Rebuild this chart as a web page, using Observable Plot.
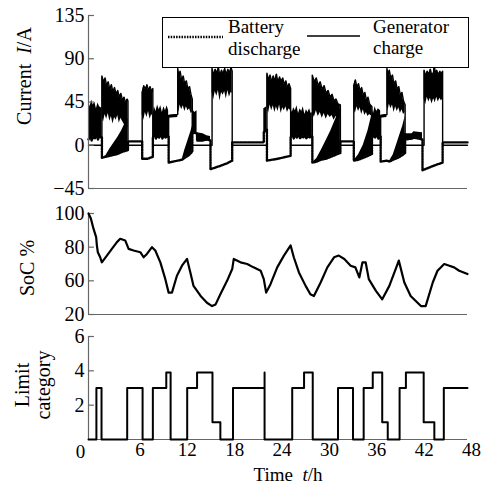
<!DOCTYPE html>
<html><head><meta charset="utf-8">
<script src="https://cdn.jsdelivr.net/npm/d3@7"></script>
<script src="https://cdn.jsdelivr.net/npm/@observablehq/plot@0.6"></script>
<style>
html,body{margin:0;padding:0;background:#fff;}
#chart{position:relative;width:487px;height:485px;overflow:hidden;background:#fff;}
#chart svg{position:absolute;left:0;top:0;}
</style></head><body><div id="chart"></div>
<script>
// ---- Current panel: generator charge (solid) band ----
const genTime = [0,1.7,
 1.7,1.9,2.1,2.3,2.5,2.7,2.9,3.1,3.3,3.5,3.7,3.9,4.1,4.3,4.5,4.7,4.9,5.0,
 5.0,6.8,
 6.8,7.0,7.2,7.4,7.6,7.8,8.0,8.15,
 8.15,10.15,
 10.15,11.3,
 11.3,11.45,11.6,11.8,12.0,12.2,12.4,12.6,12.8,13.0,13.15,
 13.15,15.65,
 15.65,15.85,16.05,16.25,16.45,16.65,16.85,17.05,17.25,17.45,17.65,17.85,18.05,18.2,
 18.2,22.6,
 22.6,22.8,23.0,23.2,23.4,23.6,23.8,24.0,24.2,24.4,24.6,24.8,25.0,25.2,25.4,25.6,
 25.6,28.35,
 28.35,28.6,28.85,29.1,29.35,29.6,29.85,30.1,30.35,30.6,30.85,31.1,31.35,31.6,31.9,
 31.9,33.6,
 33.6,33.8,34.0,34.2,34.4,34.6,34.8,35.0,35.2,35.4,35.6,35.9,
 35.9,37.0,
 37.0,37.8,
 37.8,37.95,38.1,38.3,38.5,38.7,38.9,39.1,39.3,39.5,39.7,39.9,40.1,
 40.1,42.5,
 42.5,42.7,42.9,43.1,43.3,43.5,43.7,43.8,43.9,44.1,44.3,44.5,44.7,44.85,
 44.85,48];
const genLow = [0,0,
 30,24,32,27,33,25,30,22,29,26,31,23,28,25,22,20,18,18,
 0,0,
 32,26,34,29,35,27,32,30,
 0,0,
 28,29,
 40,34,42,37,41,35,40,36,38,33,34,
 0,0,
 55,47,56,51,57,46,55,52,56,48,57,50,55,54,
 0,0,
 40,33,42,36,41,34,40,35,42,33,39,36,40,34,38,36,
 0,0,
 35,29,36,30,34,28,33,27,32,29,31,26,30,27,28,
 0,0,
 38,33,40,35,39,32,37,31,34,30,32,30,
 0,0,
 28,29,
 42,36,43,38,42,34,40,35,39,33,37,32,34,
 0,0,
 48,42,50,45,49,43,48,47,44,50,45,49,46,48,
 0,0];
const genHigh = [0,0,
 72,66,70,62,66,58,63,55,60,53,57,50,54,47,50,44,48,46,
 0,0,
 55,62,58,63,57,61,56,59,
 0,0,
 31,32,
 80,72,77,68,72,63,67,58,61,52,48,
 0,0,
 80,73,79,75,81,72,78,74,80,73,79,75,81,77,
 0,0,
 75,68,73,66,72,67,74,65,71,66,70,63,67,60,64,59,
 0,0,
 73,66,70,62,66,58,62,54,57,50,53,46,48,43,42,
 0,0,
 62,68,60,64,56,60,52,55,47,50,43,40,
 0,0,
 31,32,
 80,73,78,69,73,63,67,58,61,52,55,46,42,
 0,0,
 78,72,77,74,79,72,76,85,75,78,73,77,74,77,
 0,0];

// ---- Current panel: battery discharge (dotted) line and top of its noisy band ----
const batTime = [0,0.2,0.4,0.6,0.8,1.0,1.2,1.4,1.6,1.7,
 1.7,2.2,2.7,3.2,3.7,4.2,4.6,5.0,
 5.0,6.8,
 6.8,7.5,8.15,
 8.15,8.35,8.55,8.75,8.95,9.15,9.35,9.55,9.75,9.95,10.15,
 10.15,11.3,11.85,12.2,12.6,13.0,13.15,
 13.15,13.45,13.75,
 13.75,14.5,15.0,15.45,
 15.45,16.5,17.5,18.2,
 18.2,22.2,
 22.2,22.6,
 22.6,24.0,25.6,
 25.6,25.8,26.0,26.2,26.4,26.6,26.8,27.0,27.2,27.4,27.6,27.8,28.0,28.2,28.35,
 28.35,28.9,29.5,30.1,30.7,31.3,31.9,
 31.9,33.6,
 33.6,34.2,34.8,35.4,35.9,
 35.9,36.1,36.3,36.5,36.7,37.0,
 37.0,37.8,38.1,38.6,39.2,39.8,40.1,
 40.1,41.0,41.2,42.3,
 42.3,43.5,44.85,
 44.85,48];
const batLine = [6,10,5,9,7,11,6,10,8,8,
 -13,-12,-11,-10,-9,-7,-6,-5,
 4,4,
 -14,-14,-12,
 8,11,7,10,8,12,7,10,8,9,9,
 -18,-16,-15,-13,-11,-8,-6,
 12,13,12,
 5,5,6,5,
 -25,-22,-19,-16,
 3,3,
 14,16,
 -16,-14,-11,
 8,12,7,11,8,12,7,10,8,11,7,10,8,9,9,
 -18,-17,-15,-14,-12,-10,-8,
 4,4,
 -16,-15,-13,-11,-9,
 7,11,8,12,7,9,
 -17,-16,-17,-15,-13,-10,-8,
 6,7,8,6,
 -26,-22,-18,
 3,3];
const batTop = [46,40,47,42,45,38,44,40,39,38,
 -13,-11,-4,2,8,15,22,28,
 4,4,
 -14,-14,-12,
 30,40,35,42,37,41,34,40,36,41,36,
 -18,-16,-15,-5,5,15,20,
 38,34,36,
 13,12,10,9,
 -25,-22,-19,-16,
 3,3,
 38,40,
 -16,-14,-11,
 40,34,39,36,41,33,38,35,40,32,37,34,38,33,34,
 -18,-14,-5,5,15,27,38,
 4,4,
 -16,-10,0,15,32,
 38,33,40,35,38,36,
 -17,-16,-17,-10,5,20,30,
 12,12,14,13,
 -26,-22,-18,
 3,3];

// ---- SoC panel ----
const socTime  = [0,0.3,0.63,0.97,1.06,1.18,1.48,1.69,2.33,2.96,3.6,4.02,4.65,5.08,5.71,6.56,6.98,7.4,8.04,8.46,9.1,9.73,10.15,10.57,11.2,11.84,12.48,12.9,13.3,14.2,15.0,15.65,16.1,16.7,17.55,18.2,18.4,19.25,20.1,20.9,21.8,22.2,22.5,23.05,23.9,24.75,25.6,26.0,26.65,27.5,28.1,28.55,29.4,30.25,31.1,31.7,32.4,33.2,33.8,34.3,34.7,35.1,35.5,36.4,37.2,38.1,38.9,39.3,40.0,40.8,42.1,42.7,43.6,44.2,45.05,45.7,46.3,46.95,48];
const socValue = [100,97,91,86,81,77,74,71,75,79,83,85,84,79,78,77,74,76,80,78,71,61,53,53,63,69,73,65,57,51,47,45,46,52,60,67,73,71,70,68,66,61,53,58,68,75,81,74,65,57,52,51,59,68,74,75,73,69,68,62,71,71,61,54,49,57,67,72,59,51,45,45,59,66,70,69,68,66,64];

// ---- Limit category panel ----
const limitTime  = [0,1.0,1.65,4.9,6.85,8.15,9.85,10.4,12.5,13.75,15.7,16.7,18.3,22.3,22.3,25.8,27.3,28.4,31.6,33.5,34.85,36.0,37.2,37.9,39.4,40.2,42.45,43.8,45.0,48];
const limitValue = [0,3,0,3,0,3,3.9,0,3,3.9,1,0,3,3.9,0,3,3.9,0,3,0,3,3.9,1,0,3,3.9,1,0,3,3];

// ---- ticks ----
const currentTicks = [-45,0,45,90,135];
const currentTickLabels = ["\u221245","0","45","90","135"];
const socTicks = [40,60,80,100];
const socTickLabels = ["20","60","80","100"];
const limitTicks = [2,4,6];
const limitTickLabels = ["2","4","6"];
const timeTicks = [6,12,18,24,30,36,42,48];
const timeOrigin = [0];

const gen = genTime.map((t,i)=>({t, lo: genLow[i], hi: genHigh[i]}));
const bat = batTime.map((t,i)=>({t, line: batLine[i], top: batTop[i]}));
const soc = socTime.map((t,i)=>({t, v: socValue[i]}));
const lim = limitTime.map((t,i)=>({t, v: limitValue[i]}));

const FONT = "'Liberation Serif','Times New Roman',serif";
const FS = 19;
const W = 487, H = 485;
const AX = "#666";
const base = {
  width: W, height: H, marginLeft: 88, marginRight: 20,
  x: {domain: [0,48], axis: null},
  style: {background: "transparent", fontFamily: FONT, fontSize: FS + "px", color: "#000", overflow: "visible"}
};
const fmt = (ticks, labels) => { const m = new Map(ticks.map((d,i)=>[d,labels[i]])); return d => m.get(d); };

const p1 = Plot.plot({
  ...base, marginTop: 15, marginBottom: H - 188,
  y: {domain: [-45,135], axis: null},
  marks: [
    Plot.areaY(bat, {x: "t", y1: "line", y2: "top", fill: "#000"}),
    Plot.areaY(gen, {x: "t", y1: "lo", y2: "hi", fill: "#000"}),
    Plot.line(gen, {x: "t", y: "hi", stroke: "#000", strokeWidth: 1.4}),
    Plot.line(bat, {x: "t", y: "line", stroke: "#000", strokeWidth: 2.4, strokeDasharray: "1.5,1.2"}),
    Plot.ruleX([0], {y1: -45, y2: 135, stroke: AX, strokeWidth: 1.2}),
    Plot.ruleY([-45], {x1: 0, x2: 48, stroke: AX, strokeWidth: 1.2}),
    Plot.ruleY(currentTicks, {x1: 0, x2: 0.75, stroke: AX, strokeWidth: 1.2}),
    Plot.axisY(currentTicks, {tickSize: 0, tickPadding: 4, tickFormat: fmt(currentTicks, currentTickLabels), fontSize: 20, label: null})
  ]
});

const p2 = Plot.plot({
  ...base, marginTop: 213, marginBottom: H - 314,
  y: {domain: [40,100], axis: null},
  marks: [
    Plot.ruleX([0], {y1: 40, y2: 100, stroke: AX, strokeWidth: 1.2}),
    Plot.ruleY([40], {x1: 0, x2: 48, stroke: AX, strokeWidth: 1.2}),
    Plot.ruleY(socTicks, {x1: 0, x2: 0.75, stroke: AX, strokeWidth: 1.2}),
    Plot.line(soc, {x: "t", y: "v", stroke: "#000", strokeWidth: 2.2}),
    Plot.axisY(socTicks, {tickSize: 0, tickPadding: 4, tickFormat: fmt(socTicks, socTickLabels), fontSize: 20, label: null})
  ]
});

const p3 = Plot.plot({
  ...base, marginTop: 336, marginBottom: H - 439,
  y: {domain: [0,6], axis: null},
  marks: [
    Plot.ruleX([0], {y1: 0, y2: 6, stroke: AX, strokeWidth: 1.2}),
    Plot.ruleY([0], {x1: 0, x2: 48, stroke: AX, strokeWidth: 1.2}),
    Plot.ruleY(limitTicks, {x1: 0, x2: 0.75, stroke: AX, strokeWidth: 1.2}),
    Plot.line(lim, {x: "t", y: "v", curve: "step-after", stroke: "#000", strokeWidth: 2}),
    Plot.axisY(limitTicks, {tickSize: 0, tickPadding: 4, tickFormat: fmt(limitTicks, limitTickLabels), fontSize: 20, label: null}),
    Plot.axisX(timeTicks, {tickSize: 0, tickPadding: 3, dx: 4, fontSize: FS, label: null}),
    Plot.text(timeOrigin, {x: d => d, y: 0, text: d => String(d), dx: -8, dy: 12, fontSize: FS})
  ]
});

const root = document.getElementById("chart");
root.append(p1, p2, p3);

// overlay: axis titles and legend
const ov = d3.select(root).append("svg").attr("width", W).attr("height", H)
  .style("font-family", FONT).style("font-size", "20px");

function vtitle(x, y, parts) {
  const t = ov.append("text").attr("transform", `translate(${x},${y}) rotate(-90)`)
    .attr("text-anchor", "middle").attr("dominant-baseline", "middle");
  parts.forEach(p => t.append("tspan").text(p[0]).attr("font-style", p[1] ? "italic" : null));
}
vtitle(26, 76, [["Current\u00a0\u00a0", false], ["I", true], ["/A", false]]);
vtitle(29, 268, [["SoC %", false]]);
vtitle(24, 385, [["Limit", false]]);
vtitle(45, 385, [["category", false]]);

const tt = ov.append("text").attr("x", 288).attr("y", 481).attr("text-anchor", "middle").attr("font-size", FS);
tt.append("tspan").text("Time\u00a0\u00a0");
tt.append("tspan").text("t").attr("font-style", "italic");
tt.append("tspan").text("/h");

const lg = ov.append("g");
lg.append("rect").attr("x", 162.5).attr("y", 17.5).attr("width", 306).attr("height", 50)
  .attr("fill", "#fff").attr("stroke", "#000").attr("stroke-width", 1);
lg.append("line").attr("x1", 168).attr("x2", 223).attr("y1", 37).attr("y2", 37)
  .attr("stroke", "#000").attr("stroke-width", 2.4).attr("stroke-dasharray", "1.5,1.2");
lg.append("line").attr("x1", 307).attr("x2", 360).attr("y1", 36).attr("y2", 36)
  .attr("stroke", "#000").attr("stroke-width", 1.6);
const lt = [["Battery", 228, 33], ["discharge", 228, 55], ["Generator", 373, 33], ["charge", 373, 54]];
lt.forEach(d => lg.append("text").attr("x", d[1]).attr("y", d[2]).attr("font-size", 19).text(d[0]));
</script></body></html>
